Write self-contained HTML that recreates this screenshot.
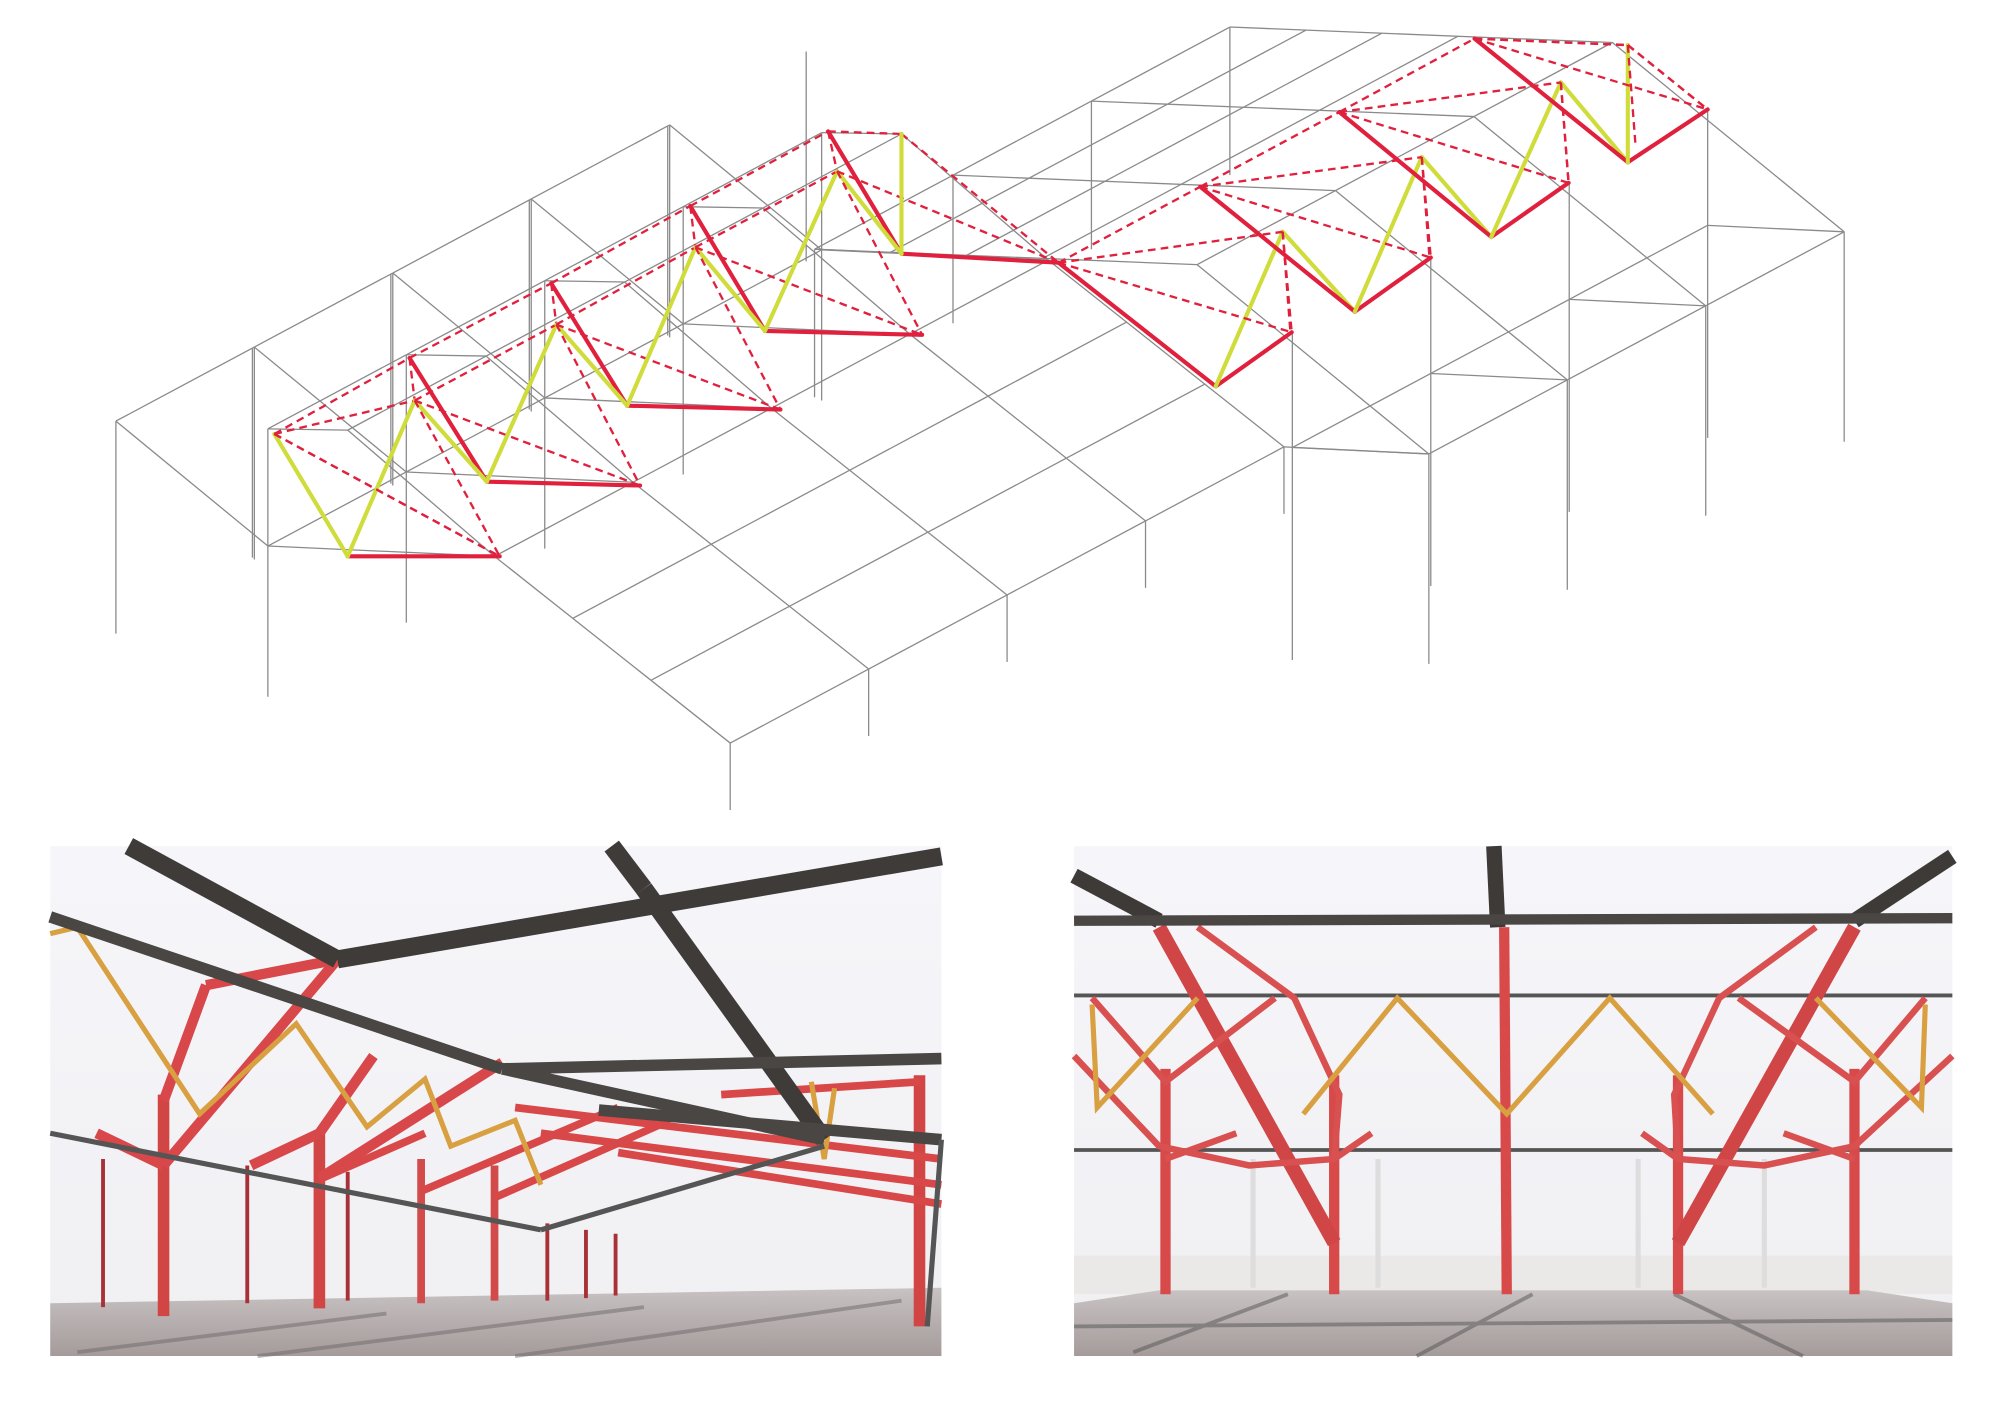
<!DOCTYPE html>
<html><head><meta charset="utf-8"><style>html,body{margin:0;padding:0;background:#fff}svg{display:block}</style></head>
<body>
<svg width="2000" height="1414" viewBox="0 0 1553 1098" preserveAspectRatio="none" xmlns="http://www.w3.org/2000/svg">
<defs>
<linearGradient id="fl" x1="0" y1="0" x2="0" y2="1"><stop offset="0" stop-color="#c8c2c2"/><stop offset="1" stop-color="#a59b9b"/></linearGradient>
<linearGradient id="sky" x1="0" y1="0" x2="0" y2="1"><stop offset="0" stop-color="#f6f6fa"/><stop offset="1" stop-color="#f0f0f3"/></linearGradient>
</defs>
<rect width="1553" height="1098" fill="#fff"/>
<g stroke="#8a8a8a" stroke-width="1" fill="none" id="gray"></g>
<g id="truss"></g>

<!-- bottom left panel -->
<rect x="39" y="657" width="692" height="396" fill="url(#sky)"/>
<polygon points="39,1012 731,1000 731,1053 39,1053" fill="url(#fl)"/>
<g stroke="#6e6a6a" stroke-width="3" opacity="0.5"><line x1="60" y1="1050" x2="300" y2="1020"/><line x1="200" y1="1053" x2="500" y2="1015"/><line x1="400" y1="1053" x2="700" y2="1010"/></g>
<g stroke-linecap="butt">
 <g stroke="#a83036" stroke-width="3"><line x1="80" y1="900" x2="80" y2="1015"/><line x1="192" y1="905" x2="192" y2="1012"/><line x1="270" y1="910" x2="270" y2="1010"/><line x1="425" y1="950" x2="425" y2="1010"/><line x1="455" y1="955" x2="455" y2="1008"/><line x1="478" y1="958" x2="478" y2="1006"/></g>
 <g stroke="#d14545" stroke-width="9"><line x1="127" y1="850" x2="127" y2="1022"/><line x1="248" y1="880" x2="248" y2="1016"/><line x1="714" y1="835" x2="714" y2="1030"/></g>
 <g stroke="#d24a4a" stroke-width="6"><line x1="327" y1="900" x2="327" y2="1012"/><line x1="384" y1="905" x2="384" y2="1010"/></g>
 <g stroke="#d8474a" stroke-width="8"><line x1="127" y1="905" x2="262" y2="745"/><line x1="248" y1="915" x2="390" y2="825"/><line x1="127" y1="905" x2="75" y2="880"/><line x1="127" y1="855" x2="160" y2="765"/><line x1="160" y1="765" x2="262" y2="745"/><line x1="248" y1="880" x2="195" y2="905"/><line x1="248" y1="880" x2="290" y2="820"/></g>
 <g stroke="#d94848" stroke-width="6"><line x1="327" y1="925" x2="480" y2="860"/><line x1="384" y1="930" x2="520" y2="870"/><line x1="400" y1="860" x2="731" y2="900"/><line x1="420" y1="880" x2="731" y2="920"/><line x1="480" y1="895" x2="731" y2="935"/><line x1="560" y1="850" x2="715" y2="840"/><line x1="330" y1="880" x2="250" y2="915"/></g>
 <g stroke="#d8a040" stroke-width="4" fill="none"><polyline points="39,725 60,720 155,865 230,795 285,875 330,838 350,890 400,870 420,920"/><polyline points="630,840 640,900 648,845"/></g>
 <g stroke="#3f3b39" stroke-width="14"><line x1="100" y1="657" x2="262" y2="745"/><line x1="262" y1="745" x2="731" y2="665"/><line x1="475" y1="657" x2="500" y2="690"/><line x1="500" y1="690" x2="640" y2="885"/></g>
 <g stroke="#4a4644" stroke-width="9"><line x1="39" y1="712" x2="390" y2="830"/><line x1="390" y1="830" x2="731" y2="822"/><line x1="390" y1="830" x2="640" y2="885"/><line x1="465" y1="862" x2="731" y2="885"/></g>
 <g stroke="#555" stroke-width="4"><line x1="39" y1="880" x2="420" y2="955"/><line x1="420" y1="955" x2="640" y2="890"/><line x1="731" y1="885" x2="720" y2="1030"/></g>
</g>

<!-- bottom right panel -->
<rect x="834" y="657" width="682" height="396" fill="url(#sky)"/>
<rect x="834" y="975" width="682" height="30" fill="#ebe8e8"/>
<polygon points="834,1012 900,1002 1450,1002 1516,1012 1516,1053 834,1053" fill="url(#fl)"/>
<g stroke="#555" stroke-width="3" opacity="0.5"><line x1="880" y1="1050" x2="1000" y2="1005"/><line x1="1100" y1="1053" x2="1190" y2="1005"/><line x1="1400" y1="1053" x2="1300" y2="1005"/><line x1="834" y1="1030" x2="1516" y2="1025"/></g>
<g>
 <g stroke="#ddd" stroke-width="4"><line x1="973" y1="900" x2="973" y2="1000"/><line x1="1070" y1="900" x2="1070" y2="1000"/><line x1="1272" y1="900" x2="1272" y2="1000"/><line x1="1370" y1="900" x2="1370" y2="1000"/></g>
 <g stroke="#555" stroke-width="3"><line x1="834" y1="773" x2="1516" y2="773"/><line x1="834" y1="893" x2="1516" y2="893"/></g>
 <g stroke="#d84a4a" stroke-width="8"><line x1="905" y1="830" x2="905" y2="1005"/><line x1="1036" y1="835" x2="1036" y2="1005"/><line x1="1303" y1="835" x2="1303" y2="1005"/><line x1="1440" y1="830" x2="1440" y2="1005"/><line x1="1168" y1="720" x2="1170" y2="1005"/></g>
 <g stroke="#d04545" stroke-width="11"><line x1="900" y1="720" x2="1036" y2="965"/><line x1="1440" y1="720" x2="1303" y2="965"/></g>
 <g stroke="#d95050" stroke-width="5" fill="none"><polyline points="930,720 1005,775 1040,850 1036,900"/><polyline points="1410,720 1335,775 1300,850 1303,900"/><polyline points="834,820 900,890 970,905 1036,900 1065,880"/><polyline points="1516,820 1440,890 1370,905 1303,900 1275,880"/><polyline points="848,775 905,840 990,775"/><polyline points="1495,775 1440,840 1350,775"/><line x1="905" y1="900" x2="960" y2="880"/><line x1="1440" y1="900" x2="1385" y2="880"/></g>
 <g stroke="#d8a040" stroke-width="4" fill="none"><polyline points="848,780 852,860 930,775"/><polyline points="1495,780 1492,860 1410,775"/><polyline points="1012,865 1085,775 1170,865 1250,775 1330,865"/></g>
 <g stroke="#3e3a38" stroke-width="12"><line x1="834" y1="680" x2="900" y2="715"/><line x1="1516" y1="665" x2="1440" y2="715"/><line x1="1160" y1="657" x2="1163" y2="720"/></g>
 <line x1="834" y1="715" x2="1516" y2="713" stroke="#4a4644" stroke-width="8"/>
</g>

<script>
(function(){
var NS="http://www.w3.org/2000/svg";
var g=document.getElementById("gray"), t=document.getElementById("truss");
function L(p,a,b,attrs){var l=document.createElementNS(NS,"line");l.setAttribute("x1",a[0]);l.setAttribute("y1",a[1]);l.setAttribute("x2",b[0]);l.setAttribute("y2",b[1]);if(attrs)for(var k in attrs)l.setAttribute(k,attrs[k]);p.appendChild(l);}
function add(a,b){return [a[0]+b[0],a[1]+b[1]];}
var d=[107.5,-57.5];
function bay(p,i){return [p[0]+d[0]*i,p[1]+d[1]*i];}
// left building
var B0=[90,327];
var offs={B:[0,0],M:[118,97],M2:[118,6],M3:[180,7],N:[294,105],R1:[355,153],R2:[416,201],F:[477,250]};
var pts=[];
for(var i=0;i<5;i++){var B=bay(B0,i),o={};for(var k in offs)o[k]=add(B,offs[k]);pts.push(o);
 L(g,o.B,o.M);L(g,o.M,o.N);L(g,o.N,o.F);L(g,o.M2,o.M3);L(g,o.M3,o.N);
 L(g,o.B,add(o.B,[0,165]));L(g,o.M2,add(o.M2,[0,208]));L(g,add(o.B,[106,-57]),add(o.B,[106,106]));
 L(g,o.F,add(o.F,[0,52]));}
for(var i=0;i<4;i++){for(var k in offs)L(g,pts[i][k],pts[i+1][k]);}
// right building: far frame profile, shifted by -d
var A3=[955,21],T3=[1252,33],E3=[1432,180],V3=[1326,85],V3b=[1326,175];
var rf=[];
for(var j=0;j<4;j++){var s=3-j;var sh=function(p){return [p[0]-d[0]*s,p[1]-d[1]*s];};
 var A=sh(A3),T=sh(T3),E=sh(E3),V=sh(V3),Vb=sh(V3b);
 var q1=[A[0]+59,A[1]+2.4],q2=[A[0]+118,A[1]+4.8],q3=[A[0]+177,A[1]+7.2];
 var fr=[A,q1,q2,q3,T,E,Vb];rf.push(fr);
 L(g,A,T);L(g,T,E);L(g,V,Vb);L(g,Vb,E);
 L(g,A,add(A,[0,115]));L(g,E,add(E,[0,163]));L(g,Vb,add(Vb,[0,165]));
}
for(var j=0;j<3;j++)for(var k=0;k<7;k++)L(g,rf[j][k],rf[j+1][k]);
L(g,pts[4].F,rf[0][5]);L(g,pts[4].N,rf[0][0]);
// trusses
var R={stroke:"#e0203c","stroke-width":3.2,"stroke-linecap":"round"};
var D={stroke:"#e0203c","stroke-width":1.8,"stroke-dasharray":"6,4"};
var Y={stroke:"#cfdc3a","stroke-width":3.2,"stroke-linecap":"round"};
var top=[[213,337],[318,278],[428,220],[536,160],[643,102]];
var mid=[[213,337],[322,311],[432,252],[540,192],[650,133]];
var low=[[270,432],[378,374],[487,315],[594,257],[700,197]];
var end=[[388,432],[497,377],[606,318],[716,260],[822,204]];
for(var i=0;i<5;i++){
 L(t,low[i],end[i],R);
 if(i>0){L(t,top[i],low[i],R);L(t,low[i-1],mid[i],Y);L(t,top[i-1],top[i],D);L(t,mid[i-1],mid[i],D);L(t,top[i],mid[i],D);}
 L(t,mid[i],low[i],Y);
 L(t,mid[i],end[i],D);
}
L(t,[213,337],[388,432],D);L(t,[322,311],[388,432],D);L(t,[432,252],[497,377],D);L(t,[540,192],[606,318],D);L(t,[650,133],[716,260],D);
L(t,[643,102],[700,104],D);L(t,[700,104],[822,204],D);L(t,[700,104],[700,197],Y);
// right truss
var vb=[[944,300],[1052,242],[1158,184],[1264,126]];
var vt=[[996,180],[1104,122],[1212,64],[1264,35]];
var vr=[[1003,258],[1111,200],[1218,142],[1326,85]];
var vl=[[822,204],[932,145],[1040,87],[1145,30]];
for(var j=0;j<4;j++){
 L(t,vl[j],vb[j],R);L(t,vb[j],vr[j],R);L(t,vb[j],vt[j],Y);
 if(j<3)L(t,vt[j],vb[j+1],Y);
 L(t,vl[j],vt[j],D);L(t,vt[j],vr[j],D);
 if(j>0)L(t,vl[j-1],vl[j],D);
 L(t,vt[j],[vt[j][0]+6,vt[j][1]+78],D);
}
L(t,[822,204],[1003,258],D);L(t,[932,145],[1111,200],D);L(t,[1040,87],[1218,142],D);L(t,[1145,30],[1326,85],D);
L(t,[1145,30],[1264,35],D);L(t,[1264,35],[1326,85],D);
})();
</script>
</svg>
</body></html>
